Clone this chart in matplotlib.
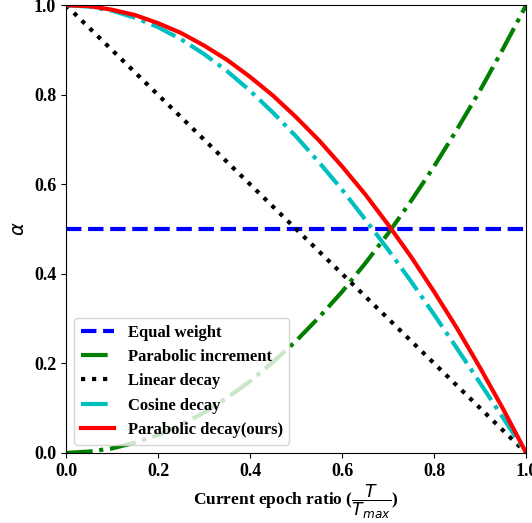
import matplotlib.pyplot as plt

# epoch ratio samples and the curves
epoch_ratio = [0.0, 0.05, 0.1, 0.15, 0.2, 0.25, 0.3, 0.35, 0.4, 0.45, 0.5,
               0.55, 0.6, 0.65, 0.7, 0.75, 0.8, 0.85, 0.9, 0.95, 1.0]
equal_weight = [0.5] * 21
parabolic_increment = [0.0, 0.003, 0.01, 0.023, 0.04, 0.063, 0.09, 0.123, 0.16, 0.203, 0.25,
                       0.303, 0.36, 0.423, 0.49, 0.563, 0.64, 0.723, 0.81, 0.903, 1.0]
linear_decay = [1.0, 0.95, 0.9, 0.85, 0.8, 0.75, 0.7, 0.65, 0.6, 0.55, 0.5,
                0.45, 0.4, 0.35, 0.3, 0.25, 0.2, 0.15, 0.1, 0.05, 0.0]
cosine_decay = [1.0, 0.997, 0.988, 0.972, 0.951, 0.924, 0.891, 0.853, 0.809, 0.76, 0.707,
                0.649, 0.588, 0.522, 0.454, 0.383, 0.309, 0.233, 0.156, 0.078, 0.0]
parabolic_decay = [1.0, 0.998, 0.99, 0.978, 0.96, 0.938, 0.91, 0.878, 0.84, 0.798, 0.75,
                   0.698, 0.64, 0.578, 0.51, 0.438, 0.36, 0.278, 0.19, 0.098, 0.0]

serif_bold = {'family': 'Liberation Serif', 'weight': 'bold'}

fig = plt.figure(figsize=(5.32, 5.23), dpi=100)
ax = fig.add_axes([0.124, 0.134, 0.865, 0.856])

lw = 3
ax.plot(epoch_ratio, equal_weight, 'b--', lw=lw, label='Equal weight')
ax.plot(epoch_ratio, parabolic_increment, 'g-.', lw=lw, label='Parabolic increment')
ax.plot(epoch_ratio, linear_decay, 'k:', lw=lw, label='Linear decay')
ax.plot(epoch_ratio, cosine_decay, 'c-.', lw=lw, label='Cosine decay')
ax.plot(epoch_ratio, parabolic_decay, 'r-', lw=lw, label='Parabolic decay(ours)')

ax.set_xlim(0, 1)
ax.set_ylim(0, 1)
ax.set_xticks([0, 0.2, 0.4, 0.6, 0.8, 1.0])
ax.set_yticks([0, 0.2, 0.4, 0.6, 0.8, 1.0])
for lab in ax.get_xticklabels() + ax.get_yticklabels():
    lab.set_fontproperties(serif_bold)
    lab.set_fontsize(13)

ax.set_ylabel(r'$\alpha$', fontsize=14)
ax.set_xlabel(r'Current epoch ratio ($\dfrac{T}{T_{max}}$)', fontdict=serif_bold, fontsize=12.5,
              labelpad=2)

ax.legend(loc='lower left', prop={'family': 'Liberation Serif', 'weight': 'bold', 'size': 12})

fig.savefig('out.png', dpi=100)
